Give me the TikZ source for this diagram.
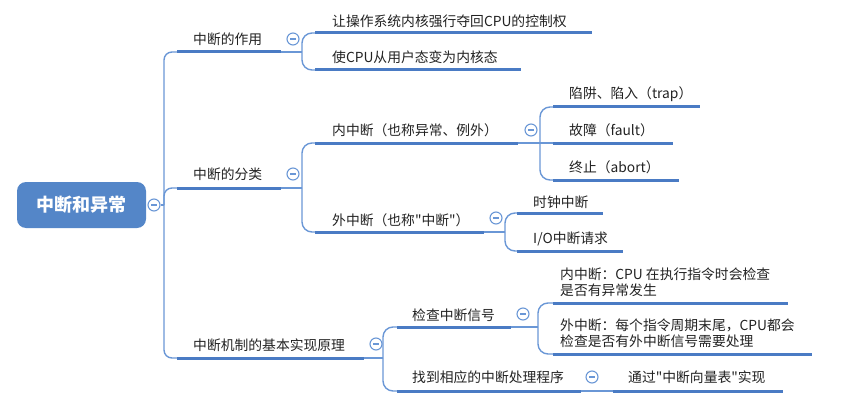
\documentclass[tikz,border=0pt]{standalone}
\usepackage{fontspec}
\newfontfamily\mmcjk{Noto Sans CJK SC}
\definecolor{mmthick}{HTML}{4A7BC4}
\definecolor{mmthin}{HTML}{6A97D6}
\definecolor{mmroot}{HTML}{5486C8}
\definecolor{mmtxt}{HTML}{222222}
\tikzset{
  lbl/.style={anchor=base west, inner sep=0pt, text=mmtxt, font=\mmcjk\fontsize{13.8}{16}\selectfont, align=left},
  uline/.style={draw=mmthick, line width=3pt},
  conn/.style={draw=mmthin, line width=1.4pt, rounded corners=10pt},
  fold/.style={circle, draw=mmthin, fill=white, line width=1.1pt, minimum size=12pt, inner sep=0pt,
    path picture={\draw[draw=mmthin, line width=1.1pt] ([xshift=-2.8pt]path picture bounding box.center) -- ([xshift=2.8pt]path picture bounding box.center);}},
  rootbox/.style={fill=mmroot, rounded corners=9pt, minimum width=129pt, minimum height=46pt, text=white, font=\mmcjk\fontsize{18}{20}\selectfont\bfseries, inner sep=0pt}
}
\begin{document}
\begin{tikzpicture}[x=1pt,y=-1pt]
\useasboundingbox (0,0) rectangle (842,401);
% root
\node[rootbox] (root) at (81.5,205) {中断和异常};
\node[fold] (froot) at (154,205) {};
\coordinate (tr) at (164,205);
% level 1 underline coordinates
\coordinate (As) at (177,52);  \coordinate (Ae) at (281,52);
\coordinate (Bs) at (177,188); \coordinate (Be) at (281,188);
\coordinate (Cs) at (177,358); \coordinate (Ce) at (364,358);
\draw[conn] (froot.east) -- (tr);
\draw[conn,rounded corners=8pt] (tr) |- (As);
\draw[conn,rounded corners=8pt] (tr) |- (Bs);
\draw[conn,rounded corners=8pt] (tr) |- (Cs);
\draw[uline] (As) -- (Ae);
\draw[uline] (Bs) -- (Be);
\draw[uline] (Cs) -- (Ce);
\node[lbl] (A) at (193,45) {中断的作用};
\node[lbl] (B) at (193,179) {中断的分类};
\node[lbl] (C) at (193,350) {中断机制的基本实现原理};
% A children
\coordinate (Aj) at (302,52);
\coordinate (A1s) at (315,33); \coordinate (A1e) at (592,33);
\coordinate (A2s) at (315,70); \coordinate (A2e) at (521,70);
\draw[conn] (Ae) -- (Aj);
\draw[conn] (Aj) |- (A1s);
\draw[conn] (Aj) |- (A2s);
\draw[uline] (A1s) -- (A1e);
\draw[uline] (A2s) -- (A2e);
\node[fold] (fA) at (293,39) {};
\node[lbl] (A1) at (332,27) {让操作系统内核强行夺回CPU的控制权};
\node[lbl] (A2) at (332,63) {使CPU从用户态变为内核态};
% B children
\coordinate (Bj) at (302,188);
\coordinate (B1s) at (315,143); \coordinate (B1e) at (518,143);
\coordinate (B2s) at (315,232); \coordinate (B2e) at (484,232);
\draw[conn] (Be) -- (Bj);
\draw[conn] (Bj) |- (B1s);
\draw[conn] (Bj) |- (B2s);
\draw[uline] (B1s) -- (B1e);
\draw[uline] (B2s) -- (B2e);
\node[fold] (fB) at (293,174) {};
\node[lbl] (B1) at (332,135) {内中断（也称异常、例外）};
\node[lbl] (B2) at (332,225) {外中断（也称"中断"）};
% B1 children
\coordinate (B1j) at (540,143);
\coordinate (B11s) at (553,107); \coordinate (B11e) at (700,107);
\coordinate (B12s) at (553,143); \coordinate (B12e) at (673,143);
\coordinate (B13s) at (553,180); \coordinate (B13e) at (679,180);
\draw[conn] (B1e) -- (B1j);
\draw[conn] (B1j) |- (B11s);
\draw[conn] (B1j) -- (B12s);
\draw[conn] (B1j) |- (B13s);
\draw[uline] (B11s) -- (B11e);
\draw[uline] (B12s) -- (B12e);
\draw[uline] (B13s) -- (B13e);
\node[fold] (fB1) at (531,130) {};
\node[lbl] (B11) at (569,99) {陷阱、陷入（trap）};
\node[lbl] (B12) at (569,135) {故障（fault）};
\node[lbl] (B13) at (569,172) {终止（abort）};
% B2 children
\coordinate (B2j) at (505,232);
\coordinate (B21s) at (517,213); \coordinate (B21e) at (603,213);
\coordinate (B22s) at (517,251); \coordinate (B22e) at (623,251);
\draw[conn] (B2e) -- (B2j);
\draw[conn] (B2j) |- (B21s);
\draw[conn] (B2j) |- (B22s);
\draw[uline] (B21s) -- (B21e);
\draw[uline] (B22s) -- (B22e);
\node[fold] (fB2) at (496,218) {};
\node[lbl] (B21) at (533,207) {时钟中断};
\node[lbl] (B22) at (533,243) {I/O中断请求};
% C children
\coordinate (Cj) at (383,358);
\coordinate (C1s) at (397,327); \coordinate (C1e) at (511,327);
\coordinate (C2s) at (397,391); \coordinate (C2e) at (581,391);
\draw[conn] (Ce) -- (Cj);
\draw[conn] (Cj) |- (C1s);
\draw[conn] (Cj) |- (C2s);
\draw[uline] (C1s) -- (C1e);
\draw[uline] (C2s) -- (C2e);
\node[fold] (fC) at (376,344) {};
\node[lbl] (C1) at (412,320) {检查中断信号};
\node[lbl] (C2) at (412,382) {找到相应的中断处理程序};
% C1 children
\coordinate (C1j) at (538,327);
\coordinate (C11s) at (553,303); \coordinate (C11e) at (788,303);
\coordinate (C12s) at (553,354); \coordinate (C12e) at (812,354);
\draw[conn] (C1e) -- (C1j);
\draw[conn] (C1j) |- (C11s);
\draw[conn] (C1j) |- (C12s);
\draw[uline] (C11s) -- (C11e);
\draw[uline] (C12s) -- (C12e);
\node[fold] (fC1) at (523,314) {};
\node[lbl] (C11) at (560,295) {内中断：CPU 在执行指令时会检查\\是否有异常发生};
\node[lbl] (C12) at (560,346) {外中断：每个指令周期末尾，CPU都会\\检查是否有外中断信号需要处理};
% C2 child
\coordinate (C21s) at (613,391); \coordinate (C21e) at (783,391);
\draw[conn] (C2e) -- (C21s);
\draw[uline] (C21s) -- (C21e);
\node[fold] (fC2) at (592,377) {};
\node[lbl] (C21) at (628,382) {通过"中断向量表"实现};
\end{tikzpicture}
\end{document}
